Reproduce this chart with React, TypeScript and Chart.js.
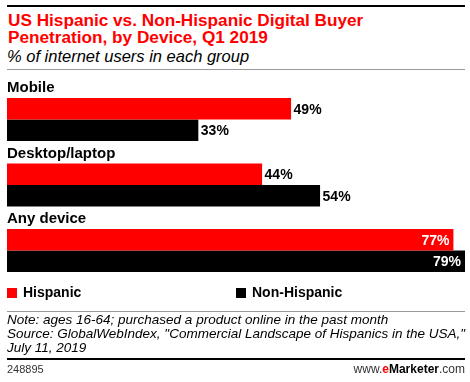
import React, { useEffect, useRef } from "react";
import { Chart, registerables } from "chart.js";

Chart.register(...registerables);

const categories = ["Mobile", "Desktop/laptop", "Any device"];
const hispanic = [49, 44, 77];
const nonHispanic = [33, 54, 79];
const seriesNames = ["Hispanic", "Non-Hispanic"];
const RED = "#ff0000";
const BLACK = "#000000";
const FONT = "'Liberation Sans', Arial, sans-serif";

const labelPlugin = {
  id: "labels",
  afterDatasetsDraw(chart: any) {
    const ctx = chart.ctx;
    ctx.save();
    // category labels
    const meta0 = chart.getDatasetMeta(0);
    ctx.font = `bold 15px ${FONT}`;
    ctx.fillStyle = "#000";
    ctx.textAlign = "left";
    ctx.textBaseline = "alphabetic";
    meta0.data.forEach((bar: any, i: number) => {
      const top = bar.y - bar.height / 2;
      ctx.fillText(categories[i], chart.chartArea.left, top - 5.5);
    });
    // value labels
    ctx.font = `bold 14px ${FONT}`;
    ctx.textBaseline = "middle";
    chart.data.datasets.forEach((ds: any, di: number) => {
      const meta = chart.getDatasetMeta(di);
      meta.data.forEach((bar: any, i: number) => {
        const v = ds.data[i];
        const txt = `${v}%`;
        const w = ctx.measureText(txt).width;
        if (bar.x + 4 + w > chart.chartArea.right) {
          ctx.fillStyle = "#fff";
          ctx.textAlign = "right";
          ctx.fillText(txt, bar.x - 4, bar.y + 1);
        } else {
          ctx.fillStyle = "#000";
          ctx.textAlign = "left";
          ctx.fillText(txt, bar.x + 2.5, bar.y + 1);
        }
      });
    });
    ctx.restore();
  },
};

function BarChart() {
  const ref = useRef<HTMLCanvasElement>(null);
  useEffect(() => {
    const chart = new Chart(ref.current!, {
      type: "bar",
      data: {
        labels: categories,
        datasets: [
          { label: seriesNames[0], data: hispanic, backgroundColor: RED, categoryPercentage: 0.6565, barPercentage: 1 },
          { label: seriesNames[1], data: nonHispanic, backgroundColor: BLACK, categoryPercentage: 0.6565, barPercentage: 1 },
        ],
      },
      options: {
        indexAxis: "y",
        responsive: false,
        animation: false,
        layout: { padding: { left: 7, right: 5, top: 8.75, bottom: 4.75 } },
        plugins: { legend: { display: false }, tooltip: { enabled: false }, title: { display: false } },
        scales: {
          x: { display: false, min: 0, max: 79 },
          y: { display: false },
        },
      },
      plugins: [labelPlugin],
    });
    return () => chart.destroy();
  }, []);
  return <canvas ref={ref} width={470} height={210} style={{ position: "absolute", left: 0, top: 78, width: 470, height: 210 }} />;
}

export default function App() {
  useEffect(() => {
    document.body.style.margin = "0";
  }, []);
  const abs = (s: React.CSSProperties): React.CSSProperties => ({ position: "absolute", ...s });
  return (
    <div style={{ position: "relative", width: 470, height: 382, overflow: "hidden", fontFamily: FONT, background: "#fff" }}>
      <div style={abs({ left: 7, top: 5, width: 458, height: 2, background: "#000" })} />
      <div style={abs({ left: 8, top: 12, fontSize: 17.2, lineHeight: "17px", fontWeight: "bold", color: RED, whiteSpace: "nowrap" })}>
        US Hispanic vs. Non-Hispanic Digital Buyer
        <br />
        Penetration, by Device, Q1 2019
      </div>
      <div style={abs({ left: 7, top: 47, fontSize: 16.5, lineHeight: "19px", fontStyle: "italic", color: "#000", whiteSpace: "nowrap" })}>
        % of internet users in each group
      </div>
      <div style={abs({ left: 7, top: 69, width: 458, height: 1, background: "#999" })} />
      <BarChart />
      <div style={abs({ left: 7, top: 288, width: 10, height: 10, background: RED })} />
      <div style={abs({ left: 23, top: 284, fontSize: 14, lineHeight: "17px", fontWeight: "bold", whiteSpace: "nowrap" })}>{seriesNames[0]}</div>
      <div style={abs({ left: 236, top: 288, width: 10, height: 10, background: BLACK })} />
      <div style={abs({ left: 252, top: 284, fontSize: 14, lineHeight: "17px", fontWeight: "bold", whiteSpace: "nowrap" })}>{seriesNames[1]}</div>
      <div style={abs({ left: 7, top: 311, width: 458, height: 1, background: "#999" })} />
      <div style={abs({ left: 7, top: 313, fontSize: 13.5, lineHeight: "14px", fontStyle: "italic", color: "#000", whiteSpace: "nowrap" })}>
        Note: ages 16-64; purchased a product online in the past month
        <br />
        Source: GlobalWebIndex, "Commercial Landscape of Hispanics in the USA,"
        <br />
        July 11, 2019
      </div>
      <div style={abs({ left: 7, top: 358, width: 458, height: 2, background: "#000" })} />
      <div style={abs({ left: 7, top: 363, fontSize: 11, lineHeight: "13px", color: "#333" })}>248895</div>
      <div style={abs({ right: 5, top: 362, fontSize: 12, lineHeight: "14px", color: "#333", whiteSpace: "nowrap" })}>
        www.<span style={{ color: RED, fontWeight: "bold" }}>e</span>
        <span style={{ color: "#000", fontWeight: "bold" }}>Marketer</span>.com
      </div>
    </div>
  );
}
